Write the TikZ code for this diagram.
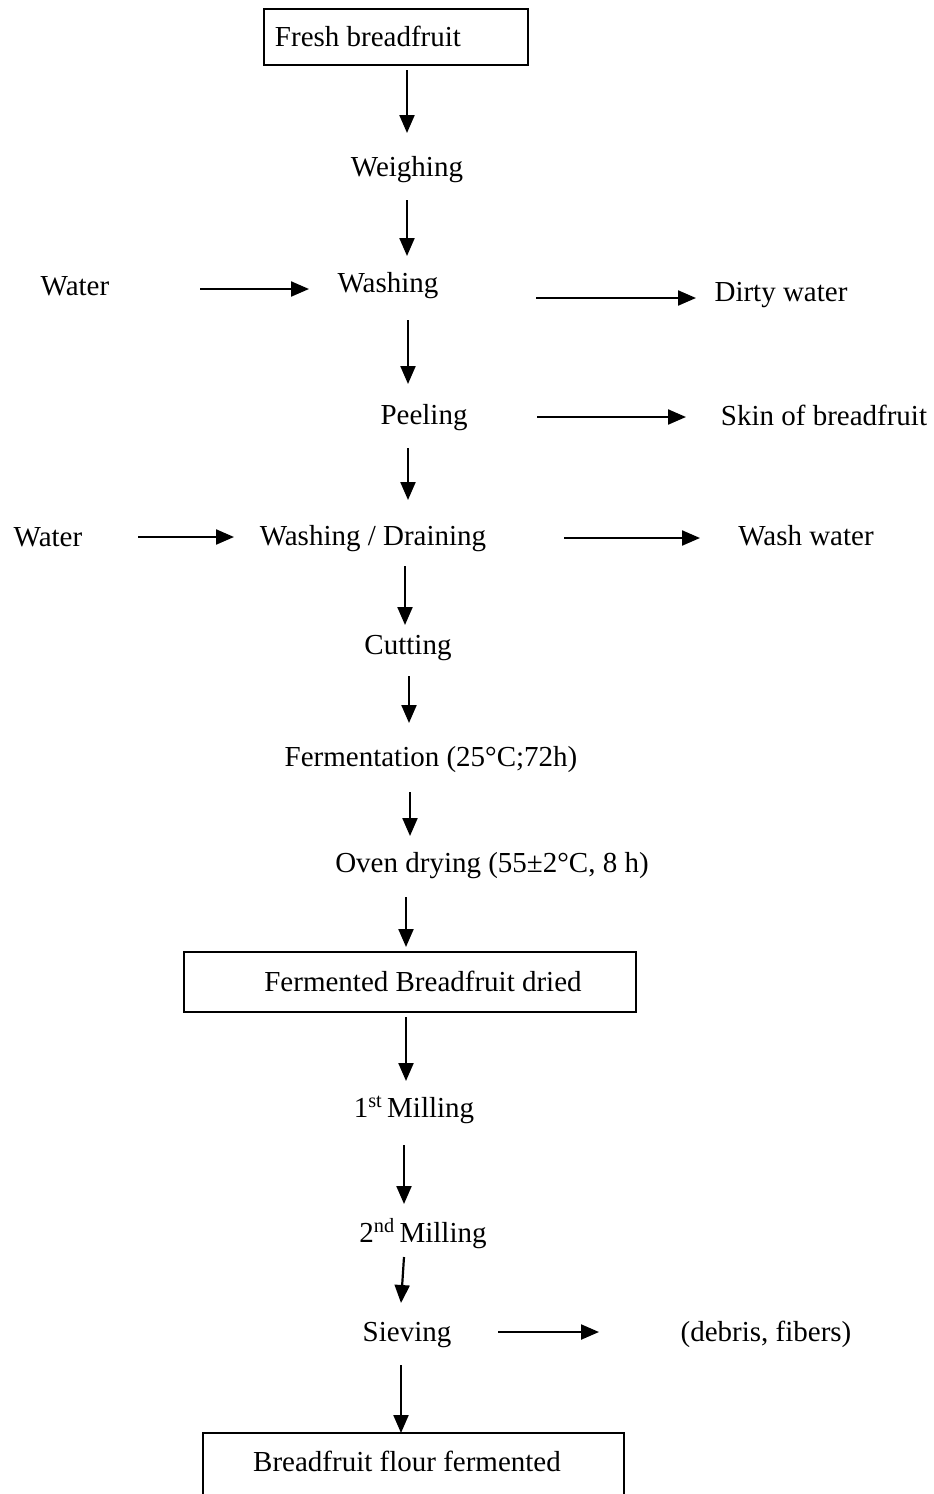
\documentclass[tikz,border=0pt]{standalone}
\usepackage{fontspec}
\setmainfont{Liberation Serif}
\usetikzlibrary{arrows.meta}
\begin{document}
\begin{tikzpicture}[x=1pt,y=-1pt,
  lbl/.style={anchor=base,inner sep=0pt,font=\fontsize{29}{34}\selectfont},
  boxn/.style={draw,line width=1.5pt,inner sep=0pt,anchor=north west},
  arr/.style={line width=2.2pt,-{Triangle[length=18pt,width=15pt]}}]
\useasboundingbox (0,0) rectangle (934,1494);
\clip (0,0) rectangle (934,1494);
% boxes
\node[boxn,minimum width=264pt,minimum height=56pt] (b1) at (263,8) {};
\node[boxn,minimum width=452pt,minimum height=60pt] (b2) at (183,951) {};
\node[boxn,minimum width=421pt,minimum height=100pt] (b3) at (202,1432) {};
% labels
\node[lbl] (fresh) at (368,46) {Fresh breadfruit};
\node[lbl] (weigh) at (407,176) {Weighing};
\node[lbl] (water1) at (75,295) {Water};
\node[lbl] (wash) at (388,292) {Washing};
\node[lbl] (dirty) at (781,301) {Dirty water};
\node[lbl] (peel) at (424,424) {Peeling};
\node[lbl] (skin) at (824,425) {Skin of breadfruit};
\node[lbl] (water2) at (48,546) {Water};
\node[lbl] (washdr) at (373,545) {Washing / Draining};
\node[lbl] (washw) at (806,545) {Wash water};
\node[lbl] (cut) at (408,654) {Cutting};
\node[lbl] (ferm) at (431,766) {Fermentation (25°C;72h)};
\node[lbl] (oven) at (492,872) {Oven drying (55±2°C, 8 h)};
\node[lbl] (fbd) at (423,991) {Fermented Breadfruit dried};
\node[lbl] (mill1) at (414,1117) {1\textsuperscript{st}\,Milling};
\node[lbl] (mill2) at (423,1242) {2\textsuperscript{nd}\,Milling};
\node[lbl] (siev) at (407,1341) {Sieving};
\node[lbl] (debris) at (766,1341) {(debris, fibers)};
\node[lbl] (flour) at (407,1471) {Breadfruit flour fermented};
% connector end points
\coordinate (a1s) at (407,70);   \coordinate (a1e) at (407,133);
\coordinate (a2s) at (407,200);  \coordinate (a2e) at (407,256);
\coordinate (h1s) at (200,289);  \coordinate (h1e) at (309,289);
\coordinate (h2s) at (536,298);  \coordinate (h2e) at (696,298);
\coordinate (a3s) at (408,320);  \coordinate (a3e) at (408,384);
\coordinate (h3s) at (537,417);  \coordinate (h3e) at (686,417);
\coordinate (a4s) at (408,448);  \coordinate (a4e) at (408,500);
\coordinate (h4s) at (138,537);  \coordinate (h4e) at (234,537);
\coordinate (h5s) at (564,538);  \coordinate (h5e) at (700,538);
\coordinate (a5s) at (405,566);  \coordinate (a5e) at (405,625);
\coordinate (a6s) at (409,676);  \coordinate (a6e) at (409,723);
\coordinate (a7s) at (410,792);  \coordinate (a7e) at (410,836);
\coordinate (a8s) at (406,897);  \coordinate (a8e) at (406,947);
\coordinate (a9s) at (406,1017); \coordinate (a9e) at (406,1081);
\coordinate (a10s) at (404,1145); \coordinate (a10e) at (404,1204);
\coordinate (a11s) at (404,1257); \coordinate (a11e) at (401,1303);
\coordinate (h6s) at (498,1332); \coordinate (h6e) at (599,1332);
\coordinate (a12s) at (401,1365); \coordinate (a12e) at (401,1433);
% connectors
\draw[arr] (a1s) -- (a1e);
\draw[arr] (a2s) -- (a2e);
\draw[arr] (h1s) -- (h1e);
\draw[arr] (h2s) -- (h2e);
\draw[arr] (a3s) -- (a3e);
\draw[arr] (h3s) -- (h3e);
\draw[arr] (a4s) -- (a4e);
\draw[arr] (h4s) -- (h4e);
\draw[arr] (h5s) -- (h5e);
\draw[arr] (a5s) -- (a5e);
\draw[arr] (a6s) -- (a6e);
\draw[arr] (a7s) -- (a7e);
\draw[arr] (a8s) -- (a8e);
\draw[arr] (a9s) -- (a9e);
\draw[arr] (a10s) -- (a10e);
\draw[arr] (a11s) -- (a11e);
\draw[arr] (h6s) -- (h6e);
\draw[arr] (a12s) -- (a12e);
\end{tikzpicture}
\end{document}
